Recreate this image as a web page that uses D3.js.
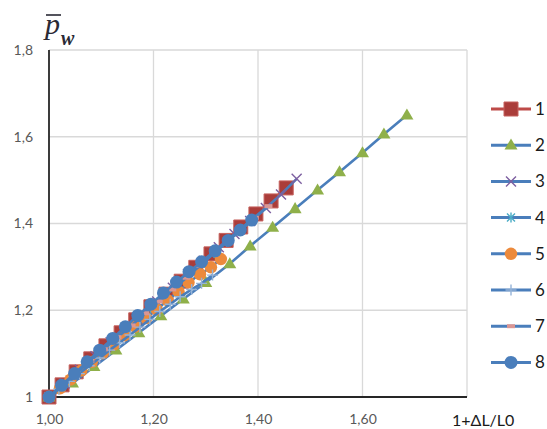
<!DOCTYPE html>
<html>
<head>
<meta charset="utf-8">
<script src="https://cdn.jsdelivr.net/npm/d3@7"></script>
<style>
body{margin:0;background:#fff}
text{font-family:Lato,"Liberation Sans",sans-serif}
</style>
</head>
<body>
<div id="chart"></div>
<script>
// series
var names = ["1","2","3","4","5","6","7","8"];
var x1 = [1.000,1.025,1.052,1.080,1.109,1.138,1.166,1.195,1.224,1.253,1.281,1.310,1.339,1.367,1.396,1.425,1.454];
var y1 = [1.000,1.028,1.058,1.088,1.118,1.148,1.178,1.208,1.237,1.267,1.299,1.330,1.361,1.392,1.422,1.452,1.482];
var x2 = [1.000,1.045,1.086,1.128,1.172,1.214,1.257,1.300,1.346,1.385,1.428,1.471,1.514,1.556,1.600,1.641,1.685];
var y2 = [1.000,1.032,1.070,1.108,1.148,1.187,1.226,1.264,1.307,1.348,1.391,1.434,1.477,1.519,1.563,1.606,1.650];
var x3 = [1.000,1.030,1.059,1.089,1.118,1.148,1.177,1.207,1.237,1.266,1.296,1.325,1.355,1.385,1.415,1.444,1.474];
var y3 = [1.000,1.031,1.063,1.094,1.126,1.157,1.189,1.220,1.252,1.283,1.314,1.345,1.376,1.406,1.436,1.467,1.503];
var x4 = [1.000,1.024,1.048,1.073,1.097,1.121,1.146,1.170,1.194,1.219,1.243,1.267,1.291,1.316,1.340,1.364,1.389];
var y4 = [1.000,1.025,1.051,1.077,1.102,1.128,1.153,1.179,1.204,1.230,1.256,1.281,1.307,1.332,1.358,1.383,1.410];
var x5 = [1.000,1.021,1.041,1.062,1.082,1.103,1.124,1.144,1.165,1.186,1.206,1.227,1.248,1.267,1.289,1.310,1.329];
var y5 = [1.000,1.020,1.040,1.061,1.081,1.101,1.121,1.142,1.162,1.182,1.202,1.223,1.243,1.264,1.283,1.299,1.318];
var x6 = [1.000,1.019,1.039,1.058,1.077,1.097,1.116,1.135,1.155,1.174,1.193,1.212,1.232,1.251,1.273,1.292,1.313];
var y6 = [1.000,1.018,1.036,1.054,1.072,1.090,1.108,1.125,1.143,1.161,1.179,1.197,1.214,1.231,1.248,1.262,1.281];
var x7 = [1.000,1.026,1.053,1.079,1.105,1.131,1.158,1.184,1.210,1.236,1.263,1.289,1.315,1.341,1.368,1.394,1.420];
var y7 = [1.000,1.028,1.055,1.083,1.110,1.138,1.165,1.193,1.220,1.248,1.275,1.303,1.330,1.358,1.385,1.413,1.440];
var x8 = [1.000,1.024,1.049,1.073,1.097,1.122,1.146,1.170,1.195,1.219,1.244,1.268,1.292,1.318,1.343,1.366,1.388];
var y8 = [1.000,1.027,1.054,1.081,1.108,1.135,1.162,1.188,1.214,1.240,1.265,1.289,1.312,1.337,1.361,1.385,1.408];

var xTicks = [1.0,1.2,1.4,1.6];
var xGrid  = [1.2,1.4,1.6,1.8];
var yTicks = [1.0,1.2,1.4,1.6,1.8];
var xTitle = "1+ΔL/L0";

var W = 547, H = 429;
var svg = d3.select("#chart").append("svg").attr("width",W).attr("height",H);

var x = d3.scaleLinear().domain([1,1.8]).range([49,467]);
var y = d3.scaleLinear().domain([1,1.8]).range([397,50]);

// grid
svg.selectAll("line.vg").data(xGrid).enter().append("line")
	.attr("x1",d=>x(d)).attr("x2",d=>x(d)).attr("y1",y(1)).attr("y2",y(1.8))
	.attr("stroke","#d9d9d9").attr("stroke-width",1.3);
svg.selectAll("line.hg").data(yTicks.slice(1)).enter().append("line")
	.attr("x1",x(1)).attr("x2",x(1.8)).attr("y1",d=>y(d)).attr("y2",d=>y(d))
	.attr("stroke","#d9d9d9").attr("stroke-width",1.3);

// axes
var xAxis = svg.append("g").attr("transform","translate(0,"+y(1)+")")
	.call(d3.axisBottom(x).tickValues(xTicks).tickSize(0).tickPadding(17)
		.tickFormat(d=>d.toFixed(2).replace(".",",")));
var yAxis = svg.append("g").attr("transform","translate("+x(1)+",0)")
	.call(d3.axisLeft(y).tickValues(yTicks).tickSize(0).tickPadding(16)
		.tickFormat(d=>d===1?"1":String(d).replace(".",",")));
[xAxis,yAxis].forEach(function(g){
	g.select(".domain").remove();
	g.selectAll("text").attr("fill","#595959").style("font-size","14px").style("font-family","Lato");
});
svg.append("line").attr("x1",x(1)).attr("x2",x(1.8)).attr("y1",y(1)).attr("y2",y(1))
	.attr("stroke","#262626").attr("stroke-width",1.8);
svg.append("line").attr("x1",x(1)).attr("x2",x(1)).attr("y1",y(1)).attr("y2",y(1.8))
	.attr("stroke","#262626").attr("stroke-width",1.8);

// marker shapes
function sq(s){return "M"+(-s/2)+","+(-s/2)+"h"+s+"v"+s+"h"+(-s)+"Z";}
function tri(s){var h=s*0.85;return "M0,"+(-h*0.6)+"L"+(s/2)+","+(h*0.4)+"L"+(-s/2)+","+(h*0.4)+"Z";}
function ex(s){var a=s/2;return "M"+(-a)+","+(-a)+"L"+a+","+a+"M"+(-a)+","+a+"L"+a+","+(-a);}
function plus(s){var a=s/2;return "M"+(-a)+",0H"+a+"M0,"+(-a)+"V"+a;}
function star(s){var a=s/2;return ex(s*0.8)+"M0,"+(-a)+"V"+a;}
function circ(r){return "M"+(-r)+",0A"+r+","+r+" 0 1,0 "+r+",0A"+r+","+r+" 0 1,0 "+(-r)+",0Z";}
function dash(s){return "M"+(-s/2)+",-2h"+s+"v4h"+(-s)+"Z";}

var series = [
	{name:names[0],xs:x1,ys:y1,line:"#be4b48",path:sq(14),fill:"#aa3d3a",stroke:"#c5605c",sw:1},
	{name:names[1],xs:x2,ys:y2,line:"#4a7ebb",path:tri(13),fill:"#8fb04a",stroke:"none",sw:0},
	{name:names[2],xs:x3,ys:y3,line:"#4a7ebb",path:ex(10),fill:"none",stroke:"#7d5fa0",sw:1.4},
	{name:names[3],xs:x4,ys:y4,line:"#4a7ebb",path:star(10),fill:"none",stroke:"#4bacc6",sw:1.4},
	{name:names[4],xs:x5,ys:y5,line:"#4a7ebb",path:circ(6.2),fill:"#ec8a3c",stroke:"none",sw:0},
	{name:names[5],xs:x6,ys:y6,line:"#4a7ebb",path:plus(11),fill:"none",stroke:"#95b3d7",sw:1.4},
	{name:names[6],xs:x7,ys:y7,line:"#4a7ebb",path:dash(8),fill:"#d99694",stroke:"none",sw:0},
	{name:names[7],xs:x8,ys:y8,line:"#4a7ebb",path:circ(6.5),fill:"#4a7ebb",stroke:"none",sw:0}
];

var line = d3.line().x(d=>x(d[0])).y(d=>y(d[1]));

series.forEach(function(s){
	var pts = s.xs.map(function(v,i){return [v,s.ys[i]];});
	var g = svg.append("g");
	g.append("path").datum(pts).attr("d",line).attr("fill","none")
		.attr("stroke",s.line).attr("stroke-width",2.6).attr("stroke-linejoin","round");
	g.selectAll("path.mk").data(pts).enter().append("path").attr("class","mk")
		.attr("d",s.path)
		.attr("transform",d=>"translate("+x(d[0])+","+y(d[1])+")")
		.attr("fill",s.fill).attr("stroke",s.stroke).attr("stroke-width",s.sw);
});

// legend
var leg = svg.selectAll("g.leg").data(series).enter().append("g").attr("class","leg")
	.attr("transform",function(d,i){return "translate(511,"+(109+i*36.2)+")";});
leg.append("line").attr("x1",-20).attr("x2",20).attr("y1",0).attr("y2",0)
	.attr("stroke",d=>d.line).attr("stroke-width",3);
leg.append("path").attr("d",d=>d.path).attr("fill",d=>d.fill).attr("stroke",d=>d.stroke).attr("stroke-width",d=>d.sw);
leg.append("text").attr("x",24).attr("y",6).text(d=>d.name)
	.attr("fill","#1a1a1a").style("font-size","17px");

// axis titles
svg.append("text").attr("x",452).attr("y",426).text(xTitle)
	.attr("fill","#1a1a1a").style("font-size","16px");
var yl = svg.append("g").attr("fill","#2a2a35");
yl.append("text").attr("x",45).attr("y",34).text("p")
	.style("font-family","'Liberation Serif',serif").style("font-style","italic").style("font-size","30px");
yl.append("text").attr("x",61).attr("y",45).text("w")
	.style("font-family","'Liberation Serif',serif").style("font-style","italic").style("font-weight","bold").style("font-size","20px");
yl.append("line").attr("x1",46).attr("x2",61).attr("y1",15).attr("y2",15)
	.attr("stroke","#2a2a35").attr("stroke-width",1.6);
</script>
</body>
</html>
